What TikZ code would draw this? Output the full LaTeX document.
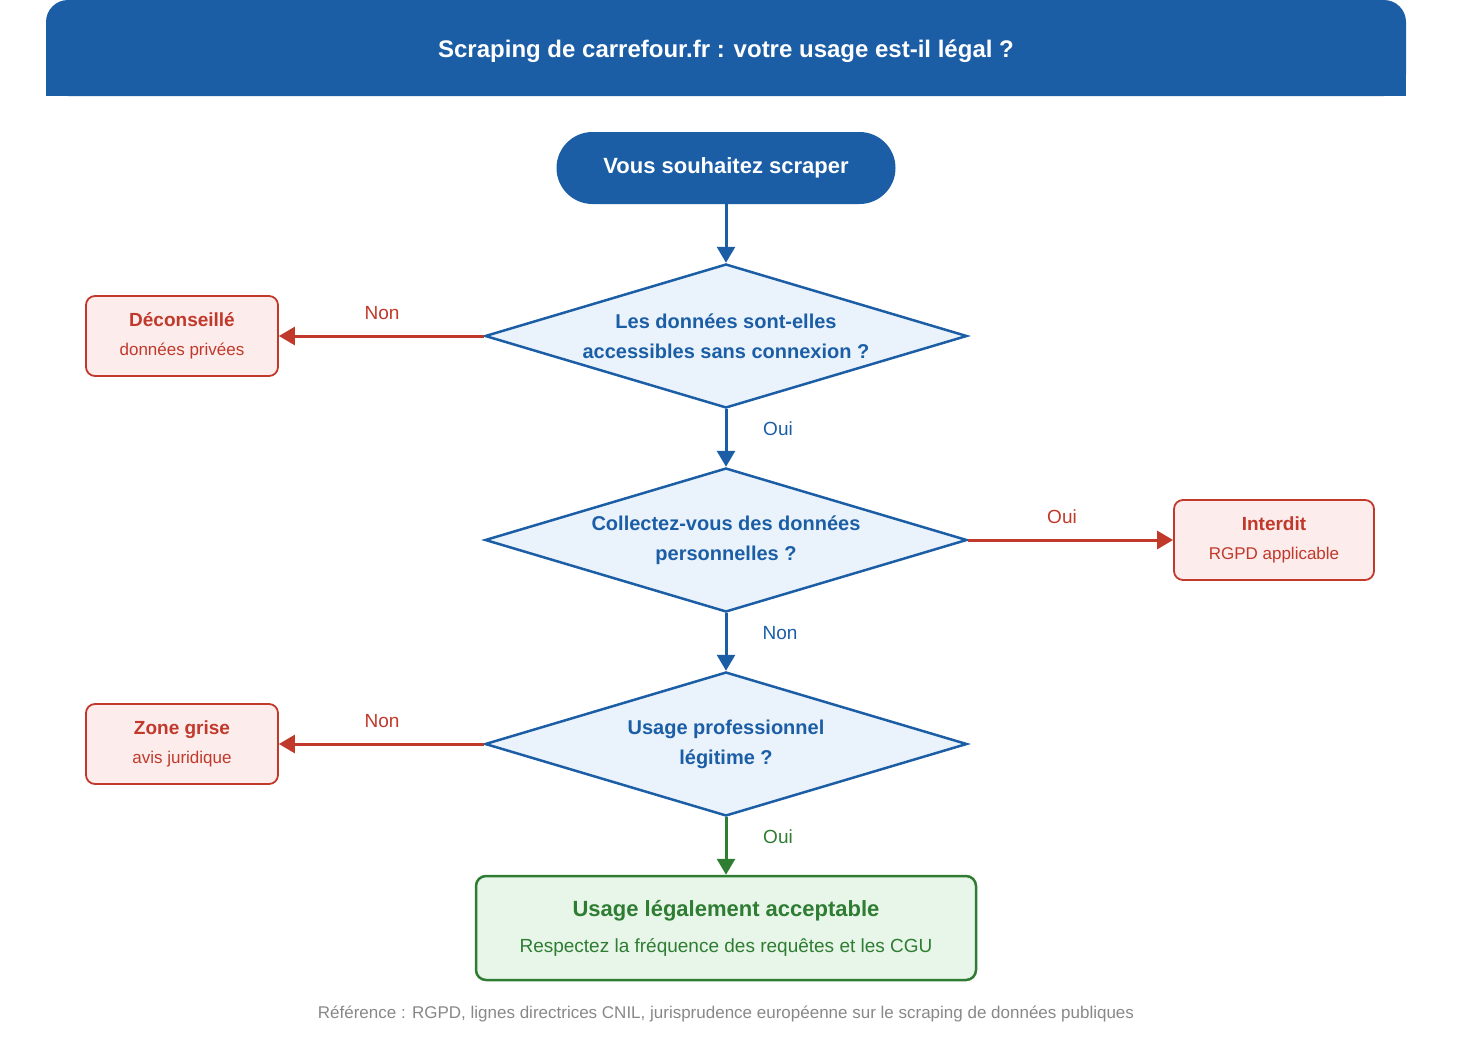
\documentclass[tikz,border=0pt]{standalone}
\usepackage{fontspec}
\setmainfont{Liberation Sans}
\usetikzlibrary{shapes.geometric,arrows.meta}
\definecolor{bl}{HTML}{1B5EA6}
\definecolor{lbl}{HTML}{EAF3FB}
\definecolor{rd}{HTML}{C0392B}
\definecolor{lrd}{HTML}{FDECEC}
\definecolor{gr}{HTML}{2E7D32}
\definecolor{lgr}{HTML}{E8F5E9}
\definecolor{gy}{HTML}{888888}
\tikzset{
 dia/.style={diamond,draw=bl,fill=lbl,line width=2.5pt,minimum width=482pt,minimum height=144pt,aspect=3.35,inner sep=0pt,text=bl,font=\bfseries\fontsize{20}{30}\selectfont,align=center},
 rbox/.style={draw=rd,fill=lrd,line width=1.8pt,rounded corners=9pt,minimum width=192pt,minimum height=80pt,text=rd,align=center,font=\fontsize{17}{29}\selectfont},
 arr/.style={line width=3pt,-{Triangle[length=16pt,width=18pt]}},
 lab/.style={font=\fontsize{19}{22}\selectfont}
}
\begin{document}
\begin{tikzpicture}[x=1pt,y=-1pt]
\useasboundingbox (0,0) rectangle (1472,1060);
\fill[bl,rounded corners=22pt] (46,96) -- (46,0) -- (1406,0) -- (1406,96) -- cycle;
\fill[bl] (46,40) rectangle (1406,96);
\node[text=white,font=\bfseries\fontsize{24}{28}\selectfont] (title) at (726,51) {Scraping de carrefour.fr : votre usage est-il légal ?};
\node[fill=bl,rounded corners=36pt,minimum width=339pt,minimum height=72pt,text=white,font=\bfseries\fontsize{22}{26}\selectfont] (start) at (726,168) {Vous souhaitez scraper};
\node[dia] (d1) at (726,336) {Les données sont-elles\\accessibles sans connexion ?};
\node[dia] (d2) at (726,540) {Collectez-vous des données\\personnelles ?};
\node[dia] (d3) at (726,744) {Usage professionnel\\légitime ?};
\node[rbox] (r1) at (182,336) {{\bfseries\fontsize{19}{22}\selectfont Déconseillé}\\données privées};
\node[rbox,minimum width=200pt] (r2) at (1274,540) {{\bfseries\fontsize{19}{22}\selectfont Interdit}\\RGPD applicable};
\node[rbox] (r3) at (182,744) {{\bfseries\fontsize{19}{22}\selectfont Zone grise}\\avis juridique};
\node[draw=gr,fill=lgr,line width=2.5pt,rounded corners=10pt,minimum width=500pt,minimum height=104pt,text=gr,align=center,font=\fontsize{19}{36}\selectfont] (ok) at (726,928) {{\bfseries\fontsize{22}{26}\selectfont Usage légalement acceptable}\\Respectez la fréquence des requêtes et les CGU};
\node[text=gy,font=\fontsize{17}{20}\selectfont] (foot) at (726,1014) {Référence : RGPD, lignes directrices CNIL, jurisprudence européenne sur le scraping de données publiques};
\draw[arr,bl] (start) -- (d1.north);
\draw[arr,bl] (d1.south) -- (d2.north);
\draw[arr,bl] (d2.south) -- (d3.north);
\draw[arr,gr] (d3.south) -- (ok.north);
\draw[arr,rd] (d1.west) -- (r1.east);
\draw[arr,rd] (d2.east) -- (r2.west);
\draw[arr,rd] (d3.west) -- (r3.east);
\node[lab,text=rd] (l1) at (382,313) {Non};
\node[lab,text=bl] (l2) at (778,429) {Oui};
\node[lab,text=rd] (l3) at (1062,517) {Oui};
\node[lab,text=bl] (l4) at (780,633) {Non};
\node[lab,text=rd] (l5) at (382,721) {Non};
\node[lab,text=gr] (l6) at (778,837) {Oui};
\end{tikzpicture}
\end{document}
